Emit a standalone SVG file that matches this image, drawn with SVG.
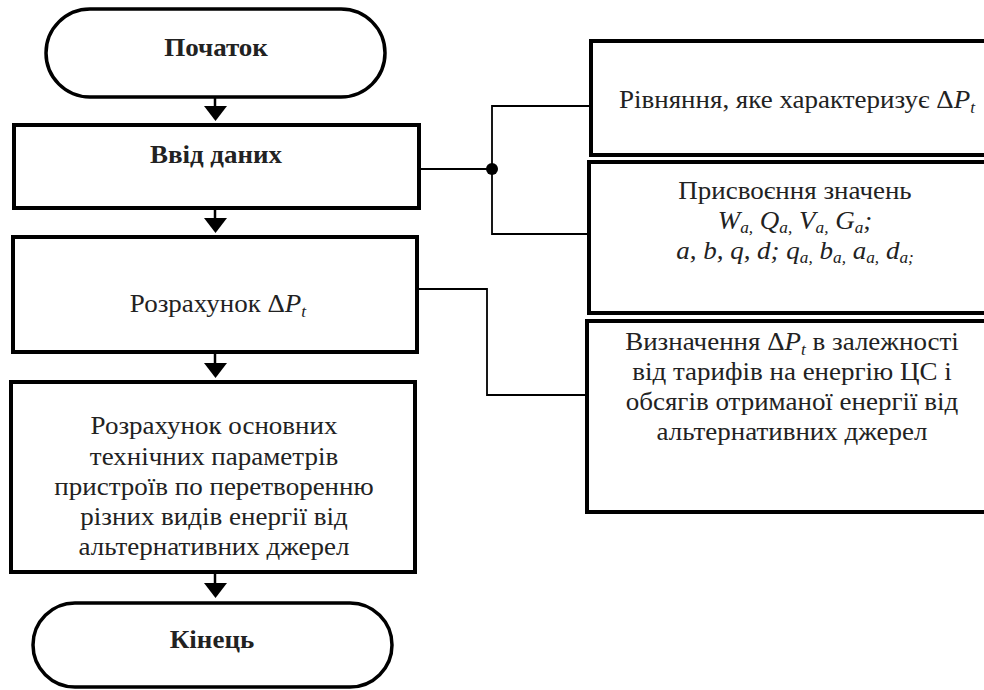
<svg xmlns="http://www.w3.org/2000/svg" width="984" height="690" viewBox="0 0 984 690">
<defs>
<style>
.box{fill:#fff;stroke:#000;stroke-width:4}
.term{fill:#fff;stroke:#000;stroke-width:3.5}
text{font-family:"Liberation Serif","Times New Roman",serif;font-size:25px;fill:#222;text-anchor:middle}
.b{font-weight:bold}
.i{font-style:italic}
.s{font-size:16px;font-style:italic}
.stem{stroke:#000;stroke-width:2.5;fill:none}
.wire{stroke:#000;stroke-width:1.8;fill:none}
</style>
</defs>
<rect width="984" height="690" fill="#fff"/>
<g id="connectors">
<line class="stem" x1="215" y1="97" x2="215" y2="108"/><polygon points="204,106 227,106 215.5,121"/>
<line class="stem" x1="215" y1="208" x2="215" y2="220"/><polygon points="204,218 227,218 215.5,233"/>
<line class="stem" x1="215" y1="352" x2="215" y2="365"/><polygon points="204,363 227,363 215.5,378"/>
<line class="stem" x1="215" y1="572" x2="215" y2="585"/><polygon points="204,583 227,583 215.5,598"/>
<polyline class="wire" points="420,169 492,169"/>
<polyline class="wire" points="591,106 492,106 492,234 591,234"/>
<circle cx="492" cy="169" r="6"/>
<polyline class="wire" points="417,289 487,289 487,395 587,395"/>
</g>
<g id="start">
<rect class="term" x="46" y="9" width="339" height="88" rx="44" ry="44"/>
<text class="b" transform="translate(216 0) scale(1.08 1)" x="0" y="56">Початок</text>
</g>
<g id="input">
<rect class="box" x="14" y="125" width="405" height="83"/>
<text class="b" transform="translate(216 0) scale(1.08 1)" x="0" y="163">Ввід даних</text>
</g>
<g id="calc">
<rect class="box" x="13" y="237" width="404" height="115"/>
<text transform="translate(218 0) scale(1.08 1)" x="0" y="312">Розрахунок Δ<tspan class="i">P</tspan><tspan class="s" dy="5">t</tspan></text>
</g>
<g id="params">
<rect class="box" x="11" y="382" width="404" height="190"/>
<g transform="translate(214 0) scale(1.08 1)">
<text x="0" y="434">Розрахунок основних</text>
<text x="0" y="465">технічних параметрів</text>
<text x="0" y="495">пристроїв по перетворенню</text>
<text x="0" y="525">різних видів енергії від</text>
<text x="0" y="555">альтернативних джерел</text>
</g>
</g>
<g id="end">
<rect class="term" x="33" y="603" width="359" height="84" rx="42" ry="42"/>
<text class="b" transform="translate(212 0) scale(1.08 1)" x="0" y="648">Кінець</text>
</g>
<g id="equation">
<rect class="box" x="591" y="41" width="410" height="114"/>
<text transform="translate(797 0) scale(1.08 1)" x="0" y="108">Рівняння, яке характеризує Δ<tspan class="i">P</tspan><tspan class="s" dy="5">t</tspan></text>
</g>
<g id="assign">
<rect class="box" x="589" y="162" width="412" height="151"/>
<g transform="translate(795 0) scale(1.08 1)">
<text x="0" y="199">Присвоєння значень</text>
<text class="i" x="0" y="229">W<tspan class="s" dy="4">a,</tspan><tspan dy="-4"> Q</tspan><tspan class="s" dy="4">a,</tspan><tspan dy="-4"> V</tspan><tspan class="s" dy="4">a,</tspan><tspan dy="-4"> G</tspan><tspan class="s" dy="4">a</tspan><tspan dy="-4">;</tspan></text>
<text class="i" x="0" y="259">a, b, q, d; q<tspan class="s" dy="4">a,</tspan><tspan dy="-4"> b</tspan><tspan class="s" dy="4">a,</tspan><tspan dy="-4"> a</tspan><tspan class="s" dy="4">a,</tspan><tspan dy="-4"> d</tspan><tspan class="s" dy="4">a;</tspan></text>
</g>
</g>
<g id="determine">
<rect class="box" x="587" y="321" width="414" height="191"/>
<g transform="translate(792 0) scale(1.08 1)">
<text x="0" y="350">Визначення Δ<tspan class="i">P</tspan><tspan class="s" dy="5">t</tspan><tspan dy="-5"> в залежності</tspan></text>
<text x="0" y="380">від тарифів на енергію ЦС і</text>
<text x="0" y="410">обсягів отриманої енергії від</text>
<text x="0" y="440">альтернативних джерел</text>
</g>
</g>
</svg>
